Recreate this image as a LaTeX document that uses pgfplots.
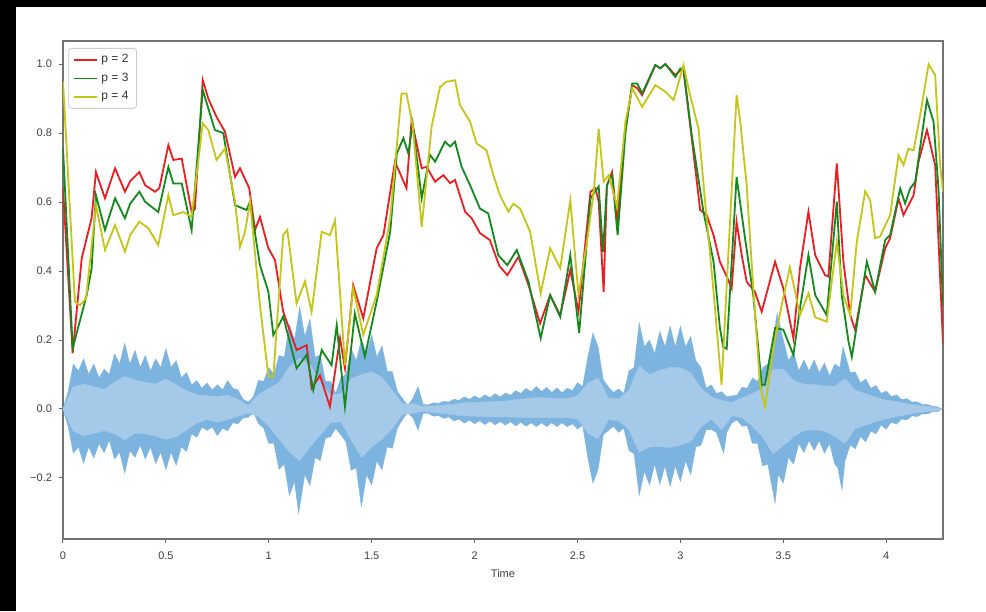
\documentclass[border=0pt]{standalone}
\usepackage{pgfplots}
\pgfplotsset{compat=1.18}
\usepackage{fontspec}
\setmainfont{Liberation Sans}
\definecolor{wout}{RGB}{124,179,223}
\definecolor{win}{RGB}{164,201,233}
\definecolor{cred}{RGB}{232,30,35}
\definecolor{cgreen}{RGB}{20,135,30}
\definecolor{cyel}{RGB}{196,196,25}
\begin{document}
\begin{tikzpicture}
\fill[black] (0,0) rectangle (493pt,305.5pt);
\fill[white] (8pt,0) rectangle (493pt,302pt);
\begin{axis}[
 at={(31.5pt,36pt)}, anchor=south west,
 scale only axis, width=440pt, height=249pt,
 xmin=0, xmax=4.276, ymin=-0.377, ymax=1.067,
 axis line style={black!55, line width=0.6pt},
 tick style={black!60, line width=0.5pt},
 tick align=outside, major tick length=2pt,
 tick pos=left,
 xtick={0,0.5,1,1.5,2,2.5,3,3.5,4},
 xticklabels={0,0.5,1,1.5,2,2.5,3,3.5,4},
 ytick={-0.2,0,0.2,0.4,0.6,0.8,1.0},
 yticklabels={−0.2,0.0,0.2,0.4,0.6,0.8,1.0},
 ticklabel style={font=\fontsize{5.5}{6.5}\selectfont, text=black!75},
 xticklabel style={yshift=-1pt},
 xlabel={Time},
 xlabel style={font=\fontsize{5.5}{6.5}\selectfont, text=black!75, at={(axis description cs:0.5,0)}, anchor=north, yshift=-15pt, inner sep=0pt},
 legend style={at={(axis description cs:0.006,0.986)}, anchor=north west, draw=black!20, fill=white, font=\fontsize{6}{7}\selectfont, text=black!80, inner xsep=2pt, inner ysep=1pt, row sep=-0.5pt, rounded corners=1.5pt},
 legend cell align=left,
 legend image code/.code={\draw[#1] (0pt,0pt) -- (11.5pt,0pt);},
]
% waveform outer envelope (upper and lower halves, each filled to zero)
\addplot[fill=wout, draw=wout, line width=0.2pt, forget plot] coordinates {
(0,0)(0.025,0.05)(0.05,0.13)(0.075,0.11)(0.1,0.145)(0.125,0.10)(0.15,0.13)(0.175,0.09)(0.2,0.115)(0.225,0.10)(0.25,0.16)(0.275,0.13)(0.3,0.19)(0.325,0.13)(0.35,0.17)(0.375,0.12)(0.4,0.155)(0.425,0.11)(0.45,0.145)(0.475,0.12)(0.5,0.175)(0.525,0.12)(0.55,0.14)(0.575,0.09)(0.6,0.105)(0.625,0.07)(0.65,0.082)(0.675,0.06)(0.7,0.075)(0.725,0.055)(0.75,0.07)(0.775,0.055)(0.8,0.082)(0.825,0.06)(0.85,0.055)(0.875,0.028)(0.9,0.02)(0.925,0.035)(0.95,0.083)(0.975,0.08)(1,0.12)(1.025,0.1)(1.05,0.155)(1.075,0.15)(1.1,0.245)(1.125,0.2)(1.15,0.295)(1.175,0.21)(1.2,0.26)(1.225,0.15)(1.25,0.157)(1.275,0.08)(1.3,0.08)(1.325,0.045)(1.35,0.09)(1.375,0.1)(1.4,0.175)(1.425,0.14)(1.45,0.2)(1.475,0.16)(1.5,0.215)(1.525,0.15)(1.55,0.183)(1.575,0.11)(1.6,0.108)(1.625,0.05)(1.65,0.03)(1.675,0.01)(1.7,0.03)(1.725,0.065)(1.75,0.013)(1.775,0.012)(1.8,0.018)(1.825,0.016)(1.85,0.022)(1.875,0.02)(1.9,0.028)(1.925,0.025)(1.95,0.035)(1.975,0.028)(2,0.038)(2.025,0.03)(2.05,0.041)(2.075,0.033)(2.1,0.044)(2.125,0.035)(2.15,0.046)(2.175,0.04)(2.2,0.053)(2.225,0.045)(2.25,0.06)(2.275,0.05)(2.3,0.065)(2.325,0.05)(2.35,0.063)(2.375,0.048)(2.4,0.061)(2.425,0.047)(2.45,0.06)(2.475,0.053)(2.5,0.076)(2.525,0.065)(2.55,0.15)(2.575,0.22)(2.6,0.18)(2.625,0.085)(2.65,0.064)(2.675,0.048)(2.7,0.058)(2.725,0.045)(2.75,0.11)(2.775,0.12)(2.8,0.25)(2.825,0.18)(2.85,0.2)(2.875,0.16)(2.9,0.225)(2.925,0.18)(2.95,0.24)(2.975,0.18)(3,0.24)(3.025,0.18)(3.05,0.21)(3.075,0.14)(3.1,0.12)(3.125,0.06)(3.15,0.07)(3.175,0.045)(3.2,0.05)(3.225,0.035)(3.25,0.038)(3.275,0.04)(3.3,0.063)(3.325,0.06)(3.35,0.09)(3.375,0.08)(3.4,0.12)(3.425,0.13)(3.45,0.2)(3.47,0.277)(3.5,0.2)(3.525,0.14)(3.55,0.165)(3.575,0.11)(3.6,0.142)(3.625,0.11)(3.65,0.142)(3.675,0.105)(3.7,0.133)(3.725,0.095)(3.75,0.13)(3.775,0.12)(3.79,0.18)(3.825,0.105)(3.85,0.107)(3.875,0.075)(3.9,0.087)(3.925,0.06)(3.95,0.068)(3.975,0.045)(4,0.052)(4.025,0.036)(4.05,0.041)(4.075,0.027)(4.1,0.03)(4.125,0.02)(4.15,0.021)(4.175,0.013)(4.2,0.013)(4.225,0.008)(4.25,0.006)(4.27,0)
} \closedcycle;
\addplot[fill=wout, draw=wout, line width=0.2pt, forget plot] coordinates {
(0,0)(0.025,-0.05)(0.05,-0.128)(0.075,-0.11)(0.1,-0.157)(0.125,-0.11)(0.15,-0.142)(0.175,-0.1)(0.2,-0.127)(0.225,-0.09)(0.25,-0.145)(0.275,-0.125)(0.3,-0.185)(0.325,-0.12)(0.35,-0.14)(0.375,-0.105)(0.4,-0.145)(0.425,-0.11)(0.45,-0.158)(0.475,-0.125)(0.5,-0.176)(0.525,-0.125)(0.55,-0.163)(0.575,-0.11)(0.6,-0.123)(0.625,-0.072)(0.65,-0.082)(0.675,-0.053)(0.7,-0.062)(0.725,-0.052)(0.75,-0.077)(0.775,-0.056)(0.8,-0.063)(0.825,-0.04)(0.85,-0.043)(0.875,-0.026)(0.9,-0.024)(0.925,-0.01)(0.95,-0.042)(0.975,-0.055)(1,-0.1)(1.025,-0.1)(1.05,-0.175)(1.075,-0.16)(1.1,-0.25)(1.125,-0.21)(1.145,-0.302)(1.175,-0.19)(1.2,-0.222)(1.225,-0.14)(1.25,-0.15)(1.275,-0.085)(1.3,-0.08)(1.325,-0.056)(1.35,-0.075)(1.375,-0.095)(1.4,-0.178)(1.425,-0.17)(1.45,-0.283)(1.475,-0.19)(1.5,-0.22)(1.525,-0.15)(1.55,-0.176)(1.575,-0.11)(1.6,-0.114)(1.625,-0.055)(1.65,-0.03)(1.675,-0.01)(1.7,-0.025)(1.725,-0.061)(1.75,-0.013)(1.775,-0.013)(1.8,-0.021)(1.825,-0.019)(1.85,-0.027)(1.875,-0.023)(1.9,-0.035)(1.925,-0.029)(1.95,-0.041)(1.975,-0.032)(2,-0.043)(2.025,-0.034)(2.05,-0.045)(2.075,-0.035)(2.1,-0.046)(2.125,-0.036)(2.15,-0.047)(2.175,-0.037)(2.2,-0.049)(2.225,-0.038)(2.25,-0.05)(2.275,-0.04)(2.3,-0.051)(2.325,-0.04)(2.35,-0.051)(2.375,-0.04)(2.4,-0.051)(2.425,-0.04)(2.45,-0.051)(2.475,-0.043)(2.5,-0.058)(2.525,-0.047)(2.55,-0.14)(2.575,-0.215)(2.6,-0.175)(2.625,-0.075)(2.65,-0.062)(2.675,-0.05)(2.7,-0.068)(2.725,-0.055)(2.75,-0.12)(2.775,-0.13)(2.8,-0.25)(2.825,-0.18)(2.85,-0.22)(2.875,-0.16)(2.9,-0.218)(2.925,-0.165)(2.95,-0.224)(2.975,-0.165)(3,-0.21)(3.025,-0.15)(3.05,-0.19)(3.075,-0.11)(3.1,-0.105)(3.125,-0.06)(3.15,-0.06)(3.175,-0.068)(3.21,-0.128)(3.225,-0.068)(3.25,-0.04)(3.275,-0.032)(3.3,-0.05)(3.325,-0.048)(3.35,-0.1)(3.375,-0.1)(3.4,-0.165)(3.425,-0.16)(3.46,-0.273)(3.475,-0.19)(3.5,-0.215)(3.525,-0.14)(3.55,-0.16)(3.575,-0.1)(3.6,-0.126)(3.625,-0.092)(3.65,-0.12)(3.675,-0.092)(3.7,-0.128)(3.725,-0.1)(3.75,-0.16)(3.765,-0.17)(3.785,-0.235)(3.8,-0.15)(3.825,-0.105)(3.85,-0.115)(3.875,-0.08)(3.9,-0.095)(3.925,-0.064)(3.95,-0.072)(3.975,-0.047)(4,-0.058)(4.025,-0.038)(4.05,-0.044)(4.075,-0.029)(4.1,-0.032)(4.125,-0.02)(4.15,-0.022)(4.175,-0.014)(4.2,-0.014)(4.225,-0.008)(4.25,-0.008)(4.27,0)
} \closedcycle;
% waveform inner (lighter) core
\addplot[fill=win, draw=win, line width=0.2pt, forget plot] coordinates {
(0,0)(0.05,0.065)(0.1,0.072)(0.15,0.065)(0.2,0.057)(0.25,0.078)(0.3,0.094)(0.35,0.085)(0.4,0.077)(0.45,0.073)(0.5,0.087)(0.55,0.07)(0.6,0.053)(0.65,0.041)(0.7,0.038)(0.75,0.036)(0.8,0.04)(0.85,0.028)(0.9,0.01)(0.95,0.042)(1.0,0.06)(1.05,0.077)(1.1,0.122)(1.15,0.148)(1.2,0.13)(1.25,0.078)(1.3,0.04)(1.35,0.045)(1.4,0.087)(1.45,0.1)(1.5,0.108)(1.55,0.092)(1.6,0.054)(1.65,0.015)(1.7,0.015)(1.75,0.007)(1.8,0.009)(1.85,0.011)(1.9,0.014)(1.95,0.018)(2.0,0.019)(2.05,0.02)(2.1,0.022)(2.15,0.023)(2.2,0.027)(2.25,0.03)(2.3,0.033)(2.35,0.032)(2.4,0.031)(2.45,0.03)(2.5,0.038)(2.55,0.075)(2.6,0.09)(2.65,0.032)(2.7,0.029)(2.75,0.055)(2.8,0.125)(2.85,0.1)(2.9,0.112)(2.95,0.12)(3.0,0.12)(3.05,0.105)(3.1,0.06)(3.15,0.035)(3.2,0.025)(3.25,0.019)(3.3,0.032)(3.35,0.045)(3.4,0.06)(3.45,0.115)(3.5,0.115)(3.55,0.083)(3.6,0.071)(3.65,0.071)(3.7,0.067)(3.75,0.065)(3.8,0.088)(3.85,0.054)(3.9,0.044)(3.95,0.034)(4.0,0.026)(4.05,0.021)(4.1,0.015)(4.15,0.011)(4.2,0.007)(4.25,0.003)(4.27,0)
} \closedcycle;
\addplot[fill=win, draw=win, line width=0.2pt, forget plot] coordinates {
(0,0)(0.05,-0.064)(0.1,-0.078)(0.15,-0.071)(0.2,-0.063)(0.25,-0.072)(0.3,-0.09)(0.35,-0.07)(0.4,-0.072)(0.45,-0.079)(0.5,-0.088)(0.55,-0.081)(0.6,-0.061)(0.65,-0.041)(0.7,-0.031)(0.75,-0.038)(0.8,-0.031)(0.85,-0.021)(0.9,-0.012)(0.95,-0.021)(1.0,-0.05)(1.05,-0.087)(1.1,-0.125)(1.15,-0.15)(1.2,-0.111)(1.25,-0.075)(1.3,-0.04)(1.35,-0.037)(1.4,-0.089)(1.45,-0.141)(1.5,-0.11)(1.55,-0.088)(1.6,-0.057)(1.65,-0.015)(1.7,-0.012)(1.75,-0.007)(1.8,-0.01)(1.85,-0.013)(1.9,-0.017)(1.95,-0.02)(2.0,-0.021)(2.05,-0.022)(2.1,-0.023)(2.15,-0.023)(2.2,-0.024)(2.25,-0.025)(2.3,-0.025)(2.35,-0.025)(2.4,-0.025)(2.45,-0.025)(2.5,-0.029)(2.55,-0.07)(2.6,-0.087)(2.65,-0.031)(2.7,-0.034)(2.75,-0.06)(2.8,-0.125)(2.85,-0.11)(2.9,-0.109)(2.95,-0.112)(3.0,-0.105)(3.05,-0.095)(3.1,-0.052)(3.15,-0.03)(3.2,-0.06)(3.25,-0.02)(3.3,-0.025)(3.35,-0.05)(3.4,-0.082)(3.45,-0.13)(3.5,-0.107)(3.55,-0.08)(3.6,-0.063)(3.65,-0.06)(3.7,-0.064)(3.75,-0.08)(3.8,-0.1)(3.85,-0.057)(3.9,-0.047)(3.95,-0.036)(4.0,-0.029)(4.05,-0.022)(4.1,-0.016)(4.15,-0.011)(4.2,-0.007)(4.25,-0.004)(4.27,0)
} \closedcycle;
% p = 2
\addplot[cred, line width=0.9pt] coordinates {
(0,0.64)(0.047,0.162)(0.091,0.437)(0.139,0.553)(0.16,0.687)(0.204,0.611)(0.253,0.698)(0.301,0.63)(0.326,0.66)(0.371,0.687)(0.399,0.649)(0.447,0.63)(0.468,0.64)(0.512,0.765)(0.536,0.722)(0.577,0.726)(0.625,0.571)(0.641,0.58)(0.679,0.954)(0.706,0.90)(0.746,0.847)(0.787,0.804)(0.836,0.673)(0.860,0.698)(0.905,0.64)(0.933,0.519)(0.957,0.557)(0.998,0.466)(1.03,0.432)(1.07,0.282)(1.135,0.171)(1.184,0.185)(1.208,0.06)(1.249,0.097)(1.297,0.007)(1.346,0.205)(1.37,0.118)(1.41,0.359)(1.459,0.263)(1.524,0.466)(1.557,0.504)(1.613,0.717)(1.669,0.64)(1.694,0.838)(1.743,0.698)(1.767,0.702)(1.808,0.659)(1.848,0.678)(1.881,0.655)(1.905,0.664)(1.954,0.572)(1.986,0.553)(2.026,0.51)(2.074,0.49)(2.12,0.415)(2.159,0.388)(2.213,0.441)(2.262,0.359)(2.318,0.248)(2.367,0.33)(2.416,0.272)(2.465,0.403)(2.505,0.282)(2.563,0.63)(2.587,0.64)(2.603,0.601)(2.627,0.34)(2.643,0.649)(2.668,0.687)(2.692,0.543)(2.733,0.813)(2.766,0.939)(2.79,0.93)(2.814,0.91)(2.878,0.997)(2.902,0.988)(2.927,1.0)(2.975,0.968)(3.0,0.982)(3.015,0.982)(3.055,0.785)(3.096,0.577)(3.128,0.562)(3.161,0.504)(3.192,0.427)(3.225,0.384)(3.249,0.35)(3.273,0.543)(3.298,0.446)(3.322,0.369)(3.362,0.34)(3.395,0.282)(3.46,0.427)(3.5,0.35)(3.549,0.205)(3.581,0.408)(3.622,0.572)(3.655,0.446)(3.703,0.388)(3.719,0.384)(3.76,0.712)(3.792,0.427)(3.825,0.272)(3.849,0.229)(3.898,0.388)(3.946,0.34)(3.995,0.466)(4.019,0.495)(4.06,0.61)(4.084,0.562)(4.133,0.62)(4.157,0.717)(4.198,0.809)(4.238,0.707)(4.276,0.19)
};
% p = 3
\addplot[cgreen, line width=0.9pt] coordinates {
(0,0.757)(0.047,0.176)(0.115,0.33)(0.139,0.407)(0.16,0.62)(0.204,0.519)(0.253,0.611)(0.301,0.553)(0.326,0.595)(0.371,0.63)(0.399,0.601)(0.463,0.571)(0.512,0.702)(0.536,0.654)(0.577,0.654)(0.625,0.519)(0.679,0.925)(0.738,0.809)(0.779,0.80)(0.836,0.591)(0.892,0.577)(0.909,0.601)(0.957,0.417)(0.998,0.34)(1.022,0.214)(1.046,0.24)(1.07,0.268)(1.135,0.118)(1.184,0.157)(1.216,0.055)(1.257,0.171)(1.305,0.127)(1.33,0.243)(1.37,0.007)(1.418,0.277)(1.467,0.152)(1.524,0.311)(1.59,0.514)(1.622,0.741)(1.654,0.785)(1.678,0.741)(1.699,0.828)(1.743,0.611)(1.783,0.737)(1.808,0.717)(1.856,0.775)(1.881,0.761)(1.905,0.775)(1.937,0.702)(1.978,0.649)(2.026,0.581)(2.066,0.567)(2.115,0.446)(2.159,0.417)(2.205,0.461)(2.262,0.369)(2.321,0.205)(2.367,0.33)(2.416,0.267)(2.465,0.446)(2.508,0.22)(2.563,0.611)(2.603,0.645)(2.624,0.455)(2.643,0.649)(2.668,0.678)(2.695,0.504)(2.733,0.803)(2.766,0.944)(2.79,0.944)(2.814,0.915)(2.878,0.997)(2.902,0.988)(2.927,1.0)(2.975,0.963)(3.0,0.987)(3.015,0.987)(3.055,0.794)(3.112,0.572)(3.161,0.427)(3.192,0.235)(3.208,0.18)(3.225,0.175)(3.273,0.673)(3.314,0.495)(3.354,0.33)(3.395,0.07)(3.411,0.07)(3.46,0.235)(3.5,0.23)(3.549,0.157)(3.581,0.292)(3.622,0.446)(3.655,0.33)(3.711,0.272)(3.76,0.601)(3.784,0.33)(3.817,0.195)(3.833,0.151)(3.865,0.272)(3.906,0.427)(3.946,0.34)(3.995,0.49)(4.019,0.504)(4.068,0.639)(4.092,0.596)(4.116,0.639)(4.141,0.659)(4.198,0.896)(4.23,0.833)(4.254,0.639)(4.276,0.30)
};
% p = 4
\addplot[cyel, line width=0.9pt] coordinates {
(0,0.95)(0.058,0.311)(0.082,0.301)(0.112,0.32)(0.16,0.591)(0.204,0.461)(0.253,0.533)(0.301,0.456)(0.326,0.504)(0.371,0.543)(0.415,0.524)(0.463,0.475)(0.512,0.62)(0.536,0.562)(0.585,0.571)(0.625,0.557)(0.679,0.828)(0.706,0.809)(0.746,0.722)(0.787,0.755)(0.836,0.601)(0.860,0.47)(0.884,0.513)(0.909,0.601)(0.957,0.301)(0.998,0.094)(1.022,0.094)(1.07,0.505)(1.09,0.519)(1.135,0.306)(1.176,0.37)(1.208,0.282)(1.257,0.514)(1.297,0.504)(1.322,0.547)(1.37,0.127)(1.41,0.35)(1.459,0.215)(1.524,0.33)(1.59,0.553)(1.645,0.915)(1.669,0.915)(1.699,0.823)(1.743,0.528)(1.791,0.818)(1.832,0.934)(1.864,0.949)(1.905,0.953)(1.929,0.881)(1.978,0.833)(2.01,0.77)(2.058,0.75)(2.091,0.678)(2.123,0.62)(2.164,0.572)(2.188,0.595)(2.221,0.581)(2.27,0.514)(2.321,0.335)(2.367,0.466)(2.416,0.408)(2.465,0.605)(2.505,0.33)(2.546,0.485)(2.579,0.63)(2.603,0.813)(2.627,0.659)(2.652,0.678)(2.692,0.586)(2.733,0.833)(2.766,0.93)(2.814,0.876)(2.878,0.939)(2.927,0.92)(2.967,0.896)(3.015,0.997)(3.047,0.91)(3.088,0.813)(3.12,0.601)(3.161,0.34)(3.2,0.07)(3.273,0.91)(3.289,0.843)(3.322,0.649)(3.354,0.35)(3.387,0.07)(3.411,0.007)(3.452,0.176)(3.492,0.301)(3.532,0.411)(3.581,0.272)(3.622,0.335)(3.655,0.266)(3.711,0.253)(3.76,0.485)(3.792,0.33)(3.825,0.272)(3.857,0.485)(3.898,0.631)(3.922,0.605)(3.946,0.495)(3.97,0.5)(4.019,0.562)(4.06,0.736)(4.084,0.707)(4.108,0.755)(4.133,0.75)(4.165,0.852)(4.206,1.0)(4.238,0.968)(4.262,0.707)(4.276,0.63)
};
\legend{p = 2, p = 3, p = 4}
\end{axis}
\end{tikzpicture}
\end{document}
